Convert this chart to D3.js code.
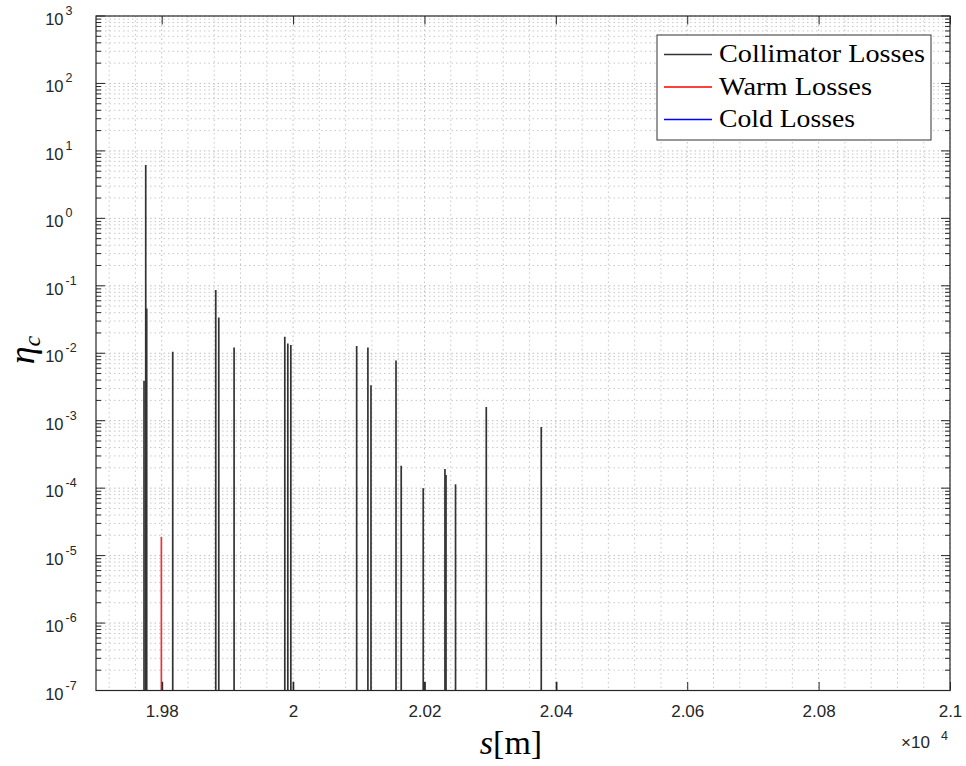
<!DOCTYPE html>
<html><head><meta charset="utf-8">
<script src="https://cdn.jsdelivr.net/npm/d3@7"></script>
<style>body{margin:0;background:#fff}svg{display:block}</style>
</head><body>
<svg id="chart" width="966" height="766"></svg>
<script>
// ---- data ----
const collimatorS = [19773.1, 19775.7, 19777.2, 19801.0, 19816.8, 19882.3, 19886.9, 19910.2,
  19987.4, 19992.0, 19996.6, 20000.5, 20096.8, 20113.9, 20118.6, 20156.7, 20164.6,
  20198.1, 20200.7, 20231.2, 20232.8, 20247.3, 20294.1, 20377.8, 20401.2];
const collimatorEta = [0.0039, 6.2, 0.046, 1.35e-7, 0.0105, 0.087, 0.034, 0.0122,
  0.0176, 0.014, 0.0132, 1.35e-7, 0.0128, 0.0122, 0.00335, 0.0078, 2.15e-4,
  1.0e-4, 1.35e-7, 1.92e-4, 1.57e-4, 1.14e-4, 1.6e-3, 8.07e-4, 1.35e-7];
const warmS = [19799.5];
const warmEta = [1.9e-5];
const coldS = [];
const coldEta = [];
const xTickValues = [19800, 20000, 20200, 20400, 20600, 20800, 21000];
const xTickLabels = ["1.98", "2", "2.02", "2.04", "2.06", "2.08", "2.1"];
const yExponents = [-7, -6, -5, -4, -3, -2, -1, 0, 1, 2, 3];
const legendNames = ["Collimator Losses", "Warm Losses", "Cold Losses"];
const legendColors = ["#333333", "#ff0000", "#0000ff"];

// ---- layout ----
const L = 96, R = 950, T = 16, B = 690.5;
const svg = d3.select("#chart");
const x = d3.scaleLinear().domain([19700, 21000]).range([L, R]);
const y = d3.scaleLog().domain([1e-7, 1e3]).range([B, T]);
const axisCol = "#262626";

// grid
const gridG = svg.append("g");
const xMinor = d3.range(19720, 21000, 40).filter(v => !xTickValues.includes(v));
gridG.selectAll("line.xm").data(xMinor).join("line")
  .attr("x1", d => x(d)).attr("x2", d => x(d)).attr("y1", T).attr("y2", B)
  .attr("stroke", "#c8c8c8").attr("stroke-width", 1).attr("stroke-dasharray", "1.5,3");
gridG.selectAll("line.xM").data(xTickValues).join("line")
  .attr("x1", d => x(d)).attr("x2", d => x(d)).attr("y1", T).attr("y2", B)
  .attr("stroke", "#bdbdbd").attr("stroke-width", 1).attr("stroke-dasharray", "1.5,3");
const yMinor = [];
yExponents.slice(0, -1).forEach(e => { for (let k = 2; k <= 9; k++) yMinor.push(k * Math.pow(10, e)); });
const yMajor = yExponents.map(e => Math.pow(10, e));
gridG.selectAll("line.ym").data(yMinor).join("line")
  .attr("x1", L).attr("x2", R).attr("y1", d => y(d)).attr("y2", d => y(d))
  .attr("stroke", "#c8c8c8").attr("stroke-width", 1).attr("stroke-dasharray", "1.5,3");
gridG.selectAll("line.yM").data(yMajor).join("line")
  .attr("x1", L).attr("x2", R).attr("y1", d => y(d)).attr("y2", d => y(d))
  .attr("stroke", "#bdbdbd").attr("stroke-width", 1).attr("stroke-dasharray", "1.5,3");

// data lines
const dataG = svg.append("g");
function drawSeries(sArr, vArr, color) {
  dataG.append("g").selectAll("line").data(sArr.map((s, i) => [s, vArr[i]])).join("line")
    .attr("x1", d => x(d[0])).attr("x2", d => x(d[0]))
    .attr("y1", y(1e-7)).attr("y2", d => y(d[1]))
    .attr("stroke", color).attr("stroke-width", 1.7);
}
drawSeries(collimatorS, collimatorEta, "#333333");
drawSeries(warmS, warmEta, "#e8353a");
drawSeries(coldS, coldEta, "#0000ff");

// axes box
svg.append("rect").attr("x", L).attr("y", T).attr("width", R - L).attr("height", B - T)
  .attr("fill", "none").attr("stroke", axisCol).attr("stroke-width", 1.2);

// ticks via d3 axes
const xb = svg.append("g").attr("transform", `translate(0,${B})`)
  .call(d3.axisBottom(x).tickValues(xTickValues).tickSizeInner(-8.5).tickSizeOuter(0)
    .tickFormat((d, i) => xTickLabels[i]));
xb.select(".domain").remove();
xb.selectAll(".tick line").attr("stroke", axisCol);
xb.selectAll(".tick text").attr("y", 14).attr("dy", "0.71em")
  .attr("font-family", "Liberation Sans, Arial, sans-serif").attr("font-size", 17).attr("fill", axisCol);
const xt = svg.append("g").attr("transform", `translate(0,${T})`)
  .call(d3.axisTop(x).tickValues(xTickValues).tickSizeInner(-8.5).tickSizeOuter(0).tickFormat(""));
xt.select(".domain").remove();
xt.selectAll(".tick line").attr("stroke", axisCol);

[["left", L, 1], ["right", R, -1]].forEach(([side, px, dir]) => {
  const g = svg.append("g");
  g.selectAll("line.maj").data(yMajor).join("line").attr("class", "maj")
    .attr("x1", px).attr("x2", px + dir * 9).attr("y1", d => y(d)).attr("y2", d => y(d))
    .attr("stroke", axisCol);
  g.selectAll("line.min").data(yMinor).join("line").attr("class", "min")
    .attr("x1", px).attr("x2", px + dir * 5).attr("y1", d => y(d)).attr("y2", d => y(d))
    .attr("stroke", axisCol);
});

// y tick labels: 10^e
const yl = svg.append("g").attr("font-family", "Liberation Sans, Arial, sans-serif").attr("fill", axisCol);
yExponents.forEach(e => {
  yl.append("text").attr("x", 63.5).attr("y", y(Math.pow(10, e)) + 9)
    .attr("text-anchor", "end").attr("font-size", 16.5).text("10");
  yl.append("text").attr("x", 65.5).attr("y", y(Math.pow(10, e)) - 1)
    .attr("text-anchor", "start").attr("font-size", 12.5).text(String(e));
});

// x multiplier
const mg = svg.append("g").attr("font-family", "Liberation Sans, Arial, sans-serif").attr("fill", axisCol);
mg.append("text").attr("x", 901).attr("y", 748).attr("font-size", 17).text("\u00d710");
mg.append("text").attr("x", 941).attr("y", 740).attr("font-size", 12.5).text("4");

// axis titles
const xl = svg.append("text").attr("x", 511).attr("y", 754).attr("text-anchor", "middle")
  .attr("font-family", "Liberation Serif, Times New Roman, serif").attr("font-size", 34).attr("fill", "#000");
xl.append("tspan").attr("font-style", "italic").text("s");
xl.append("tspan").text("[m]");
const ylab = svg.append("text").attr("transform", "translate(34,350) rotate(-90)").attr("text-anchor", "middle")
  .attr("font-family", "Liberation Serif, Times New Roman, serif").attr("font-size", 36).attr("fill", "#000");
ylab.append("tspan").attr("font-style", "italic").text("\u03b7");
ylab.append("tspan").attr("font-style", "italic").attr("font-size", 24).attr("dy", 6).text("c");

// legend
const lg = svg.append("g");
lg.append("rect").attr("x", 657).attr("y", 35).attr("width", 274).attr("height", 105)
  .attr("fill", "#fff").attr("stroke", "#333").attr("stroke-width", 1);
legendNames.forEach((n, i) => {
  const cy = 54.5 + i * 32.5;
  lg.append("line").attr("x1", 664).attr("x2", 712).attr("y1", cy).attr("y2", cy)
    .attr("stroke", legendColors[i]).attr("stroke-width", 1.3);
  lg.append("text").attr("x", 719).attr("y", cy + 7.5)
    .attr("font-family", "Liberation Serif, Times New Roman, serif").attr("font-size", 26).attr("fill", "#000")
    .attr("textLength", [206, 153, 136][i]).attr("lengthAdjust", "spacingAndGlyphs").text(n);
});
</script>
</body></html>
